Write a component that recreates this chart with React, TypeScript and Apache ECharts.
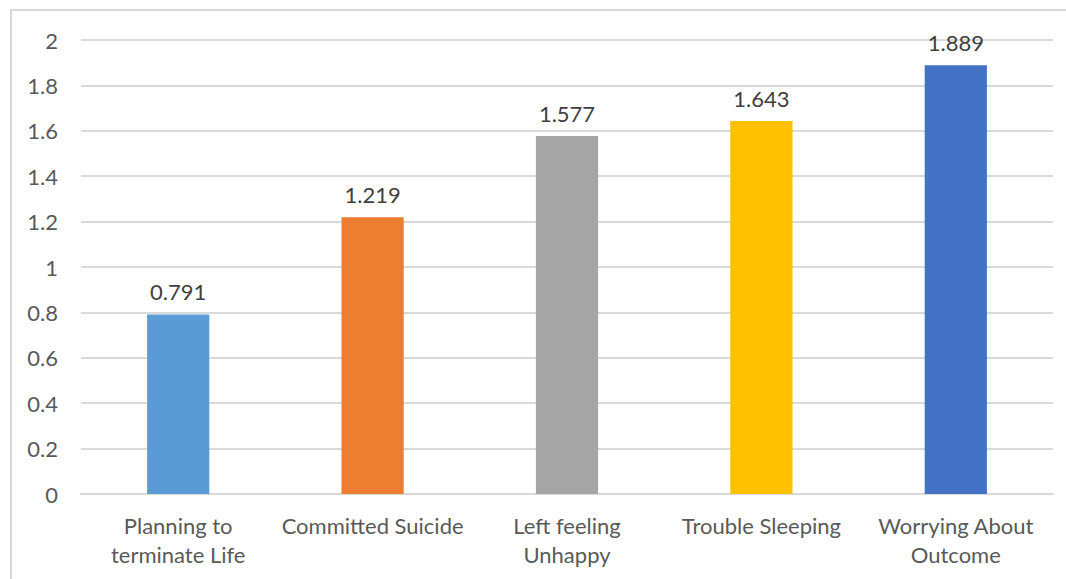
import React, { useEffect, useRef } from "react";
import * as echarts from "echarts";

const categories = [
  "Planning to\nterminate Life",
  "Committed Suicide",
  "Left feeling\nUnhappy",
  "Trouble Sleeping",
  "Worrying About\nOutcome",
];
const values = [0.791, 1.219, 1.577, 1.643, 1.889];
const colors = ["#5B9BD5", "#ED7D31", "#A5A5A5", "#FFC000", "#4472C4"];

const FONT = "Lato";

export default function App() {
  const ref = useRef<HTMLDivElement>(null);
  useEffect(() => {
    document.body.style.margin = "0";
    const chart = echarts.init(ref.current!, null, { renderer: "svg" });
    chart.setOption({
      animation: false,
      backgroundColor: "#ffffff",
      graphic: [
        {
          type: "rect",
          shape: { x: 11, y: 10, width: 1100, height: 620 },
          style: { fill: "none", stroke: "#D9D9D9", lineWidth: 2 },
          silent: true,
        },
      ],
      grid: { left: 81, right: 13, top: 40, bottom: 85, containLabel: false },
      xAxis: {
        type: "category",
        data: categories,
        axisLine: { show: true, lineStyle: { color: "#D9D9D9", width: 2 } },
        axisTick: { show: false },
        axisLabel: {
          color: "#595959",
          fontFamily: FONT,
          fontSize: 22,
          lineHeight: 29,
          margin: 17,
          interval: 0,
        },
      },
      yAxis: {
        type: "value",
        min: 0,
        max: 2,
        interval: 0.2,
        axisLine: { show: false },
        axisTick: { show: false },
        splitLine: { lineStyle: { color: "#D9D9D9", width: 2 } },
        axisLabel: {
          color: "#595959",
          fontFamily: FONT,
          fontSize: 22,
          margin: 23,
          formatter: (v: number) => String(Math.round(v * 10) / 10),
        },
      },
      series: [
        {
          type: "bar",
          barWidth: "32%",
          data: values.map((v, i) => ({ value: v, itemStyle: { color: colors[i] } })),
          label: {
            show: true,
            position: "top",
            distance: 12,
            color: "#404040",
            fontFamily: FONT,
            fontSize: 22,
            formatter: (p: any) => p.value.toFixed(3),
          },
        },
      ],
    });
    return () => chart.dispose();
  }, []);
  return <div ref={ref} style={{ width: 1066, height: 579 }} />;
}
